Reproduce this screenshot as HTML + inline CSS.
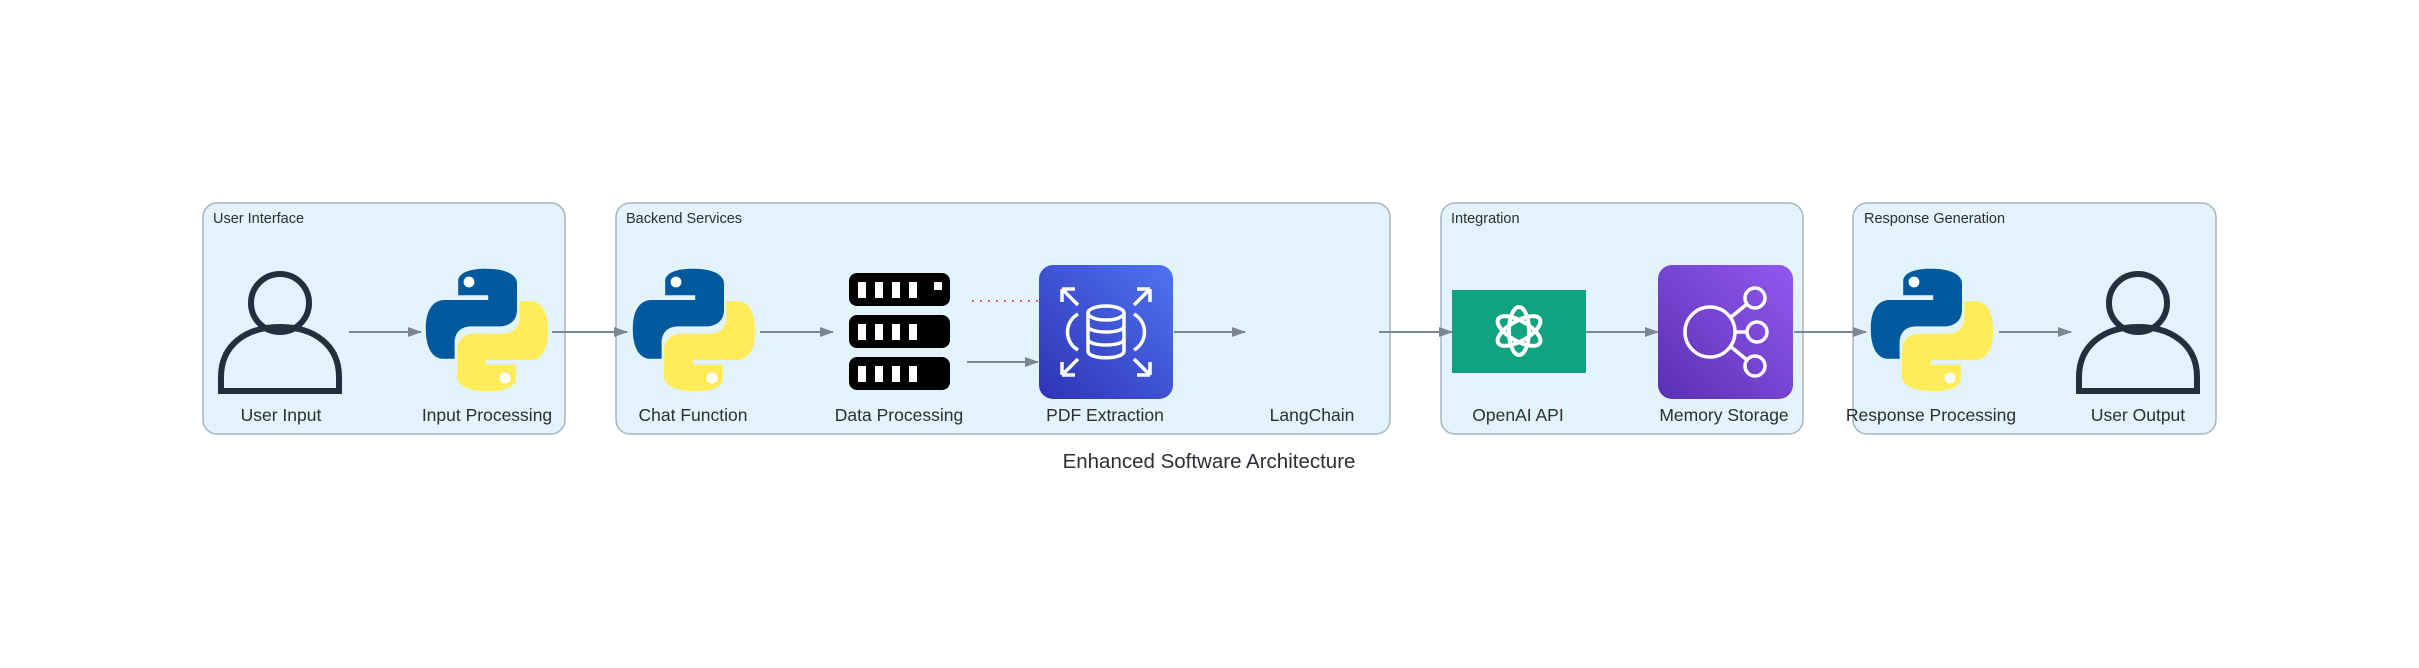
<!DOCTYPE html>
<html><head><meta charset="utf-8"><style>
html,body{margin:0;padding:0;background:#fff;}
svg{display:block;font-family:"Liberation Sans",Arial,sans-serif;}
</style></head><body>
<svg width="2419" height="668" viewBox="0 0 2419 668" xmlns="http://www.w3.org/2000/svg">
<defs>
  <marker id="ah" markerWidth="14" markerHeight="10" refX="13" refY="5" orient="auto" markerUnits="userSpaceOnUse">
    <path d="M0,0 L14,5 L0,10 Z" fill="#7b8691"/>
  </marker>
  <linearGradient id="gb" x1="0" y1="1" x2="1" y2="0">
    <stop offset="0" stop-color="#2e33b4"/><stop offset="1" stop-color="#4f73f2"/>
  </linearGradient>
  <linearGradient id="gp" x1="0" y1="1" x2="1" y2="0">
    <stop offset="0" stop-color="#5a2fb3"/><stop offset="1" stop-color="#9259f0"/>
  </linearGradient>
  <g id="py">
    <path d="M54,4 C30,4 31,14 31,14 L31,26 L56,26 L56,30 L20,30 C20,30 4,28 4,54 C4,80 18,79 18,79 L28,79 L28,66 C28,66 27,52 42,52 L66,52 C66,52 80,52 80,38 L80,16 C80,16 81,4 54,4 Z" fill="#02599e"/>
    <circle cx="40" cy="15" r="4.5" fill="#fff"/>
    <g transform="rotate(180 55 55)">
      <path d="M54,4 C30,4 31,14 31,14 L31,26 L56,26 L56,30 L20,30 C20,30 4,28 4,54 C4,80 18,79 18,79 L28,79 L28,66 C28,66 27,52 42,52 L66,52 C66,52 80,52 80,38 L80,16 C80,16 81,4 54,4 Z" fill="#ffec58"/>
      <circle cx="40" cy="15" r="4.5" fill="#fff"/>
    </g>
  </g>
  <g id="person" fill="none" stroke="#232f3e" stroke-width="6">
    <circle cx="62" cy="32" r="29"/>
    <path d="M3,120 L3,106 C3,74 28,56 62,56 C96,56 121,74 121,106 L121,120 Z"/>
  </g>
</defs>

<g fill="#e2f3fb" stroke="#a9b4bd" stroke-width="1.5">
  <rect x="203" y="203" width="362" height="231" rx="14"/>
  <rect x="616" y="203" width="774" height="231" rx="14"/>
  <rect x="1441" y="203" width="362" height="231" rx="14"/>
  <rect x="1853" y="203" width="363" height="231" rx="14"/>
</g>
<g font-size="14.5" fill="#2b2f33">
  <text x="213" y="223">User Interface</text>
  <text x="626" y="223">Backend Services</text>
  <text x="1451" y="223">Integration</text>
  <text x="1864" y="223">Response Generation</text>
</g>

<use href="#person" transform="translate(218,271)"/>
<use href="#person" transform="translate(2076,271)"/>
<use href="#py" transform="translate(421,264) scale(1.2)"/>
<use href="#py" transform="translate(628,264) scale(1.2)"/>
<use href="#py" transform="translate(1866,264) scale(1.2)"/>

<g>
  <rect x="849" y="273" width="101" height="33" rx="8" fill="#000"/>
  <rect x="849" y="315" width="101" height="33" rx="8" fill="#000"/>
  <rect x="849" y="357" width="101" height="33" rx="8" fill="#000"/>
  <g fill="#fff">
    <rect x="858" y="282" width="8" height="16"/><rect x="875" y="282" width="8" height="16"/><rect x="892" y="282" width="8" height="16"/><rect x="909" y="282" width="8" height="16"/><rect x="934" y="282" width="8" height="8"/>
    <rect x="858" y="324" width="8" height="16"/><rect x="875" y="324" width="8" height="16"/><rect x="892" y="324" width="8" height="16"/><rect x="909" y="324" width="8" height="16"/>
    <rect x="858" y="366" width="8" height="16"/><rect x="875" y="366" width="8" height="16"/><rect x="892" y="366" width="8" height="16"/><rect x="909" y="366" width="8" height="16"/>
  </g>
</g>

<rect x="1039" y="265" width="134" height="134" rx="14" fill="url(#gb)"/>
<g fill="none" stroke="#fff" stroke-width="3.5">
  <path d="M1062,289 L1078,305 M1062,289 L1062,302 M1062,289 L1075,289"/>
  <path d="M1150,289 L1134,305 M1150,289 L1150,302 M1150,289 L1137,289"/>
  <path d="M1062,375 L1078,359 M1062,375 L1062,362 M1062,375 L1075,375"/>
  <path d="M1150,375 L1134,359 M1150,375 L1150,362 M1150,375 L1137,375"/>
  <path d="M1078,314 C1064,322 1064,342 1078,350"/>
  <path d="M1134,314 C1148,322 1148,342 1134,350"/>
  <ellipse cx="1106" cy="313" rx="18" ry="7"/>
  <path d="M1088,313 L1088,351 C1088,360 1124,360 1124,351 L1124,313"/>
  <path d="M1088,326 C1088,334 1124,334 1124,326 M1088,339 C1088,347 1124,347 1124,339"/>
</g>

<rect x="1452" y="290" width="134" height="83" fill="#10a37f"/>
<g fill="none" stroke="#fff" stroke-width="4" transform="translate(1519,331)">
  <ellipse rx="10" ry="24"/>
  <ellipse rx="10" ry="24" transform="rotate(60)"/>
  <ellipse rx="10" ry="24" transform="rotate(120)"/>
</g>

<rect x="1658" y="265" width="135" height="134" rx="14" fill="url(#gp)"/>
<g fill="none" stroke="#fff" stroke-width="3.5">
  <circle cx="1710" cy="332" r="25"/>
  <circle cx="1755" cy="298" r="10"/>
  <circle cx="1757" cy="332" r="10"/>
  <circle cx="1755" cy="366" r="10"/>
  <path d="M1730,318 L1747,304 M1735,332 L1747,332 M1730,346 L1747,360"/>
</g>

<g stroke="#7b8691" stroke-width="2" fill="none" marker-end="url(#ah)">
  <line x1="349" y1="332" x2="421" y2="332"/>
  <line x1="552" y1="332" x2="627" y2="332"/>
  <line x1="760" y1="332" x2="833" y2="332"/>
  <line x1="967" y1="362" x2="1038" y2="362"/>
  <line x1="1174" y1="332" x2="1245" y2="332"/>
  <line x1="1379" y1="332" x2="1452" y2="332"/>
  <line x1="1586" y1="332" x2="1658" y2="332"/>
  <line x1="1794" y1="332" x2="1866" y2="332"/>
  <line x1="1999" y1="332" x2="2071" y2="332"/>
</g>
<line x1="972" y1="301" x2="1038" y2="301" stroke="#e03030" stroke-width="1.5" stroke-dasharray="2,6"/>

<g font-size="17.5" fill="#2b2f33" text-anchor="middle">
  <text x="281" y="421">User Input</text>
  <text x="487" y="421">Input Processing</text>
  <text x="693" y="421">Chat Function</text>
  <text x="899" y="421">Data Processing</text>
  <text x="1105" y="421">PDF Extraction</text>
  <text x="1312" y="421">LangChain</text>
  <text x="1518" y="421">OpenAI API</text>
  <text x="1724" y="421">Memory Storage</text>
  <text x="1931" y="421">Response Processing</text>
  <text x="2138" y="421">User Output</text>
</g>
<text x="1209" y="468" font-size="20.5" fill="#2b2f33" text-anchor="middle">Enhanced Software Architecture</text>
</svg>
</body></html>
